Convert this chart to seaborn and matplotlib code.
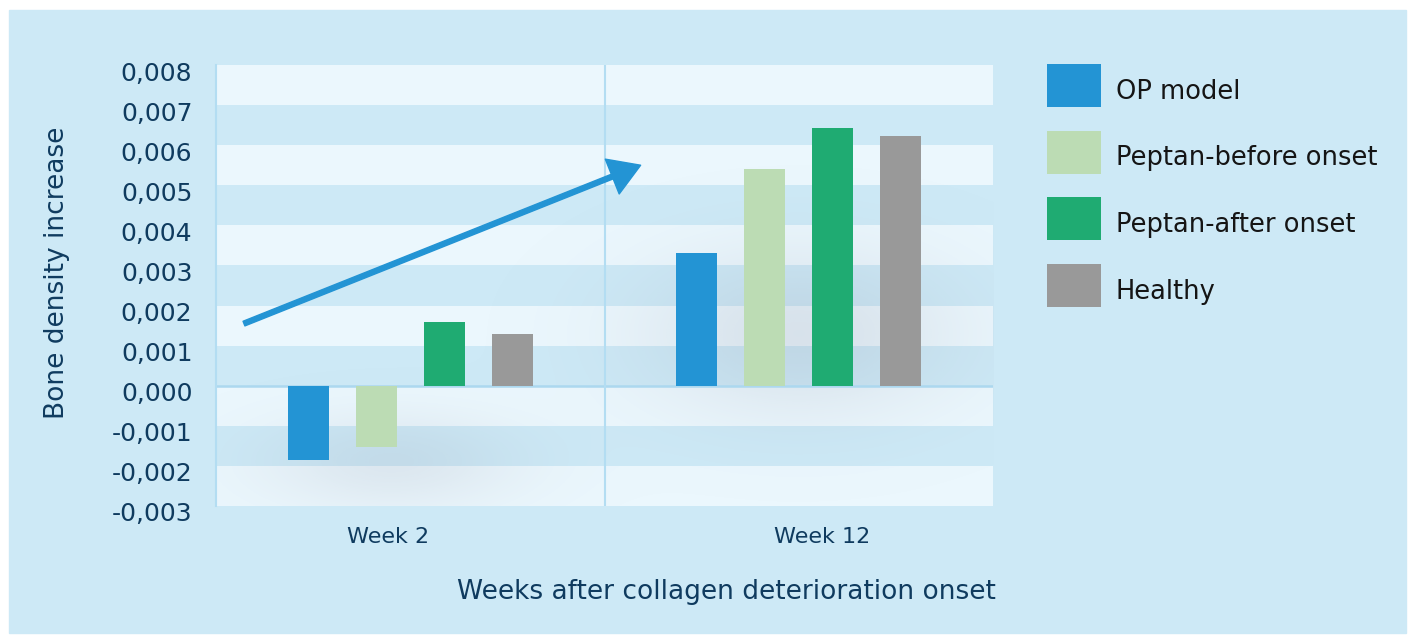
import matplotlib
matplotlib.use("Agg")
import matplotlib.pyplot as plt
from matplotlib.patches import Rectangle
from matplotlib.transforms import ScaledTranslation
import numpy as np
import pandas as pd
import seaborn as sns

# data
weeks = ["Week 2", "Week 12"]
groups = ["OP model", "Peptan-before onset", "Peptan-after onset", "Healthy"]
op_model = [-0.00185, 0.0033]
peptan_before = [-0.00152, 0.0054]
peptan_after = [0.0016, 0.00643]
healthy = [0.0013, 0.00623]
ytick_values = [-0.003, -0.002, -0.001, 0.0, 0.001, 0.002, 0.003, 0.004, 0.005, 0.006, 0.007, 0.008]
ytick_labels = ["-0,003", "-0,002", "-0,001", "0,000", "0,001", "0,002", "0,003",
                "0,004", "0,005", "0,006", "0,007", "0,008"]

colors = ["#2394d4", "#bcdcb4", "#1fab72", "#999999"]
panel = "#cde9f6"
band = "#ebf7fd"
line_col = "#b3ddf2"
text_col = "#0f3b5f"

rows = []
for g, vals in zip(groups, [op_model, peptan_before, peptan_after, healthy]):
    for w, v in zip(weeks, vals):
        rows.append({"week": w, "group": g, "value": v})
df = pd.DataFrame(rows)

plt.rcParams["font.family"] = ["DejaVu Sans"]

fig = plt.figure(figsize=(14.11, 6.37), dpi=100)
fig.patch.set_facecolor("white")
# light blue panel behind everything
fig.patches.append(Rectangle((9 / 1411, 4 / 637), 1397 / 1411, 623 / 637,
                             transform=fig.transFigure, color=panel, zorder=-10))

ax = fig.add_axes([216 / 1411, 131 / 637, 777 / 1411, 441 / 637])
ax.set_zorder(1)
ax.set_facecolor(panel)

# alternating horizontal bands
for top in [0.008, 0.006, 0.004, 0.002, 0.0, -0.002]:
    ax.axhspan(top - 0.001, top, color=band, lw=0, zorder=0)

# soft shadows behind bar groups
gx = np.linspace(-0.5, 1.5, 400)
gy = np.linspace(-0.003, 0.008, 300)
X, Y = np.meshgrid(gx, gy)
a = 0.17 * np.exp(-(((X + 0.05) / 0.33) ** 2 + ((Y + 0.0019) / 0.0012) ** 2))
a += 0.22 * np.exp(-(((X - 1.0) / 0.40) ** 2 + ((Y - 0.0013) / 0.0021) ** 2))
img = np.zeros(X.shape + (4,))
img[..., 0] = 0.58
img[..., 1] = 0.60
img[..., 2] = 0.68
img[..., 3] = np.clip(a, 0, 1)
ax.imshow(img, extent=(-0.5, 1.5, -0.003, 0.008), origin="lower",
          aspect="auto", zorder=0.5, interpolation="bilinear")

ax.axhline(0, color="#acd8ef", lw=1.8, zorder=0.8)
ax.axvline(0.5, color=line_col, lw=1.5, zorder=0.8)

sns.barplot(data=df, x="week", y="value", hue="group", order=weeks,
            hue_order=groups, palette=colors, saturation=1, width=0.7,
            gap=0.395, errorbar=None, ax=ax, zorder=2, linewidth=0)

ax.set_xlim(-0.5, 1.5)
ax.set_ylim(-0.003, 0.008)
ax.set_yticks(ytick_values)
ax.set_yticklabels(ytick_labels)
# week labels sit a little outward from the group centres in the original
ax.set_xticks([-0.058, 1.059])
ax.set_xticklabels(weeks)

for s in ["top", "right", "bottom"]:
    ax.spines[s].set_visible(False)
ax.spines["left"].set_color(line_col)
ax.spines["left"].set_linewidth(1.5)

ax.tick_params(axis="y", length=0, pad=17, labelsize=18, labelcolor=text_col)
ax.tick_params(axis="x", length=0, pad=15, labelsize=16, labelcolor=text_col)

# y tick labels sit slightly below their gridline
shift = ScaledTranslation(0, -0.06, fig.dpi_scale_trans)
for lab in ax.get_yticklabels():
    lab.set_transform(lab.get_transform() + shift)

ax.set_ylabel("Bone density increase", fontsize=19, color=text_col)
ax.yaxis.set_label_coords(-0.188, 0.529)
ax.set_xlabel("Weeks after collagen deterioration onset", fontsize=19, color=text_col)
ax.xaxis.label.set_va("center")
ax.xaxis.set_label_coords(0.657, -0.195)

# trend arrow
ax.annotate("", xy=(0.593, 0.0055), xytext=(-0.428, 0.00155),
            arrowprops=dict(width=3.6, headwidth=27, headlength=22,
                            color="#2394d4", shrink=0), zorder=3)

sns.move_legend(ax, "upper left", bbox_to_anchor=(1047 / 1411, 1 - 64 / 637),
                bbox_transform=fig.transFigure, frameon=False, title=None,
                fontsize=18.5, handlelength=2.1, handleheight=2.2,
                labelspacing=0.92, handletextpad=0.58, borderpad=0,
                borderaxespad=0, labelcolor="#151515")
tshift = ScaledTranslation(0, -0.05, fig.dpi_scale_trans)
for t in ax.get_legend().get_texts():
    t.set_transform(t.get_transform() + tshift)

fig.savefig("out.png", dpi=100, facecolor="white")
